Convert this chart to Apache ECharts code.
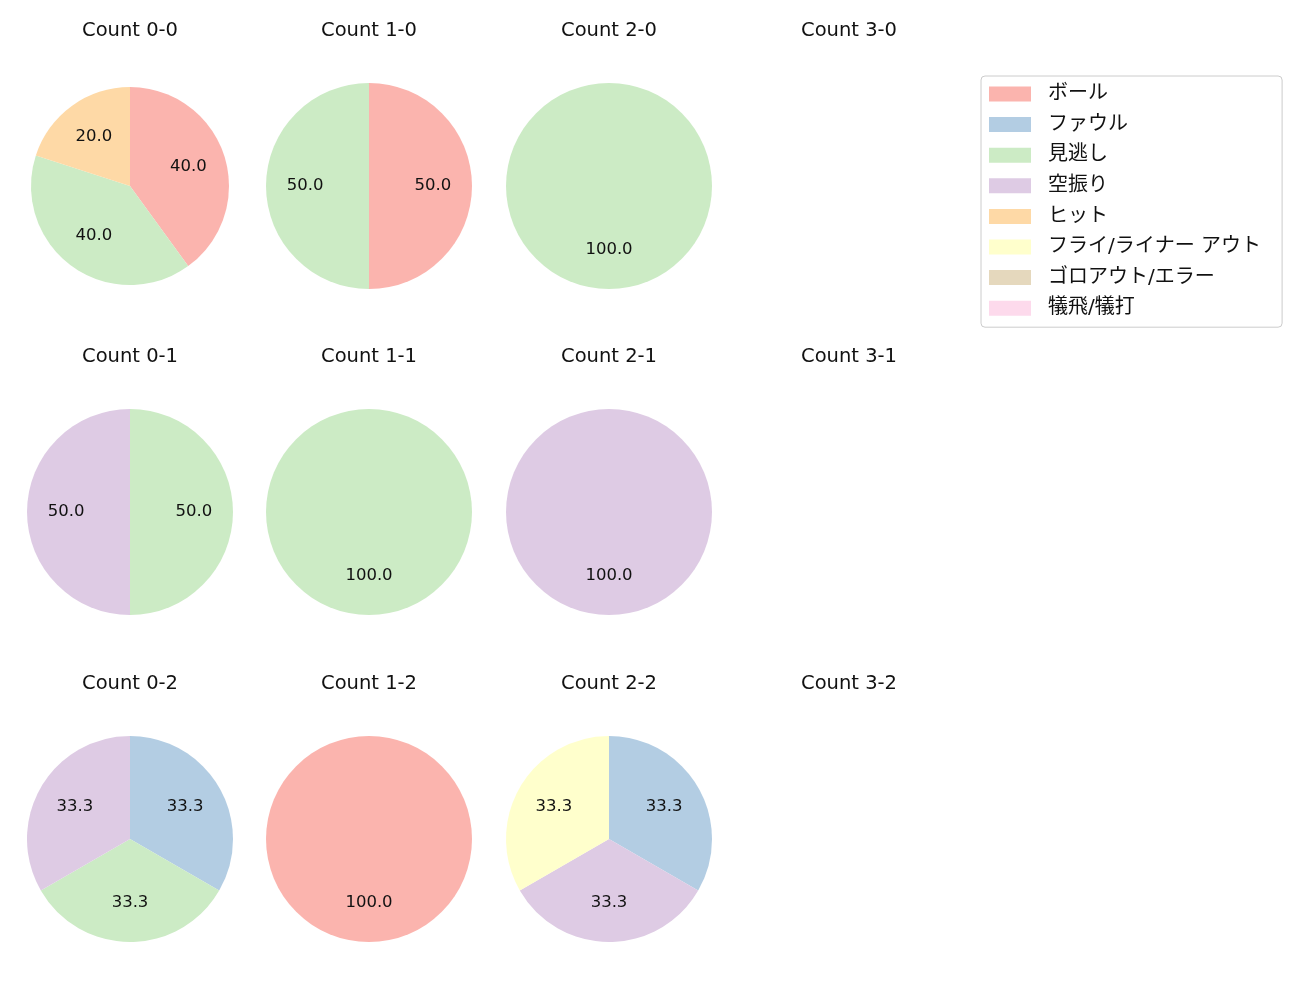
<!DOCTYPE html>
<html>
<head>
<meta charset="utf-8">
<script src="https://cdn.jsdelivr.net/npm/echarts@6/dist/echarts.min.js"></script>
<style>
  html, body { margin: 0; padding: 0; background: #fff; }
  #main { width: 1300px; height: 1000px; }
</style>
</head>
<body>
<div id="main"></div>
<script>
// 球種の分類
var categories = ['ボール', 'ファウル', '見逃し', '空振り', 'ヒット', 'フライ/ライナー アウト', 'ゴロアウト/エラー', '犠飛/犠打'];
var colors = ['#fbb4ae', '#b3cde3', '#ccebc5', '#decbe4', '#fed9a6', '#ffffcc', '#e5d8bd', '#fddaec'];

// カウントごとの件数 (categories の順)
var count00 = [2, 0, 2, 0, 1, 0, 0, 0];
var count10 = [1, 0, 1, 0, 0, 0, 0, 0];
var count20 = [0, 0, 1, 0, 0, 0, 0, 0];
var count30 = [];
var count01 = [0, 0, 1, 1, 0, 0, 0, 0];
var count11 = [0, 0, 1, 0, 0, 0, 0, 0];
var count21 = [0, 0, 0, 1, 0, 0, 0, 0];
var count31 = [];
var count02 = [0, 1, 1, 1, 0, 0, 0, 0];
var count12 = [1, 0, 0, 0, 0, 0, 0, 0];
var count22 = [0, 1, 0, 1, 0, 1, 0, 0];
var count32 = [];

var titles = [
    ['Count 0-0', 'Count 1-0', 'Count 2-0', 'Count 3-0'],
    ['Count 0-1', 'Count 1-1', 'Count 2-1', 'Count 3-1'],
    ['Count 0-2', 'Count 1-2', 'Count 2-2', 'Count 3-2']
];
var counts = [
    [count00, count10, count20, count30],
    [count01, count11, count21, count31],
    [count02, count12, count22, count32]
];

var colX = [130, 369, 609, 849];
var rowY = [186, 512, 839];
var titleY = [21, 347, 674];
var latin = '"DejaVu Sans", "Noto Sans CJK JP", sans-serif';

var titleList = [];
var seriesList = [];

for (var r = 0; r < 3; r++) {
    for (var c = 0; c < 4; c++) {
        titleList.push({
            text: titles[r][c],
            left: colX[c],
            top: titleY[r],
            padding: 0,
            textAlign: 'center',
            textStyle: { fontFamily: latin, fontSize: 19.5, fontWeight: 'normal', color: '#111' }
        });
        var vals = counts[r][c];
        if (!vals.length) continue;
        var total = vals.reduce(function(a, b) { return a + b; }, 0);
        var radius = (r === 0 && c === 0) ? 99 : 103;

        var fill = [];
        var labels = [];
        for (var i = 0; i < categories.length; i++) {
            fill.push({ name: categories[i], value: vals[i], itemStyle: { color: colors[i] } });
            if (vals[i] > 0) {
                labels.push({ name: categories[i], value: vals[i], pct: (vals[i] / total * 100).toFixed(1) });
            }
        }
        // 塗り
        seriesList.push({
            type: 'pie',
            center: [colX[c], rowY[r]],
            radius: [0, radius],
            startAngle: 90,
            clockwise: true,
            animation: false,
            label: { show: false },
            labelLine: { show: false },
            itemStyle: { borderWidth: 0 },
            emphasis: { disabled: true },
            data: fill
        });
        // ラベル (半径の0.6付近に置くため内径を小さくした透明な円)
        seriesList.push({
            type: 'pie',
            center: [colX[c], rowY[r]],
            radius: [radius * 0.18, radius],
            startAngle: 90,
            clockwise: true,
            animation: false,
            silent: true,
            legendHoverLink: false,
            itemStyle: { color: 'rgba(0,0,0,0)', borderWidth: 0 },
            label: {
                show: true,
                position: 'inside',
                fontFamily: latin,
                fontSize: 16.5,
                color: '#111',
                formatter: function(p) { return p.data.pct; }
            },
            labelLine: { show: false },
            emphasis: { disabled: true },
            data: labels.map(function(d) { return { name: '_' + d.name, value: d.value, pct: d.pct }; })
        });
    }
}

var myChart = echarts.init(document.getElementById('main'));
myChart.setOption({
    backgroundColor: '#fff',
    animation: false,
    title: titleList,
    legend: {
        data: categories,
        orient: 'vertical',
        left: 981,
        top: 76,
        padding: [8, 21, 9, 8],
        itemWidth: 42,
        itemHeight: 15,
        itemGap: 10.6,
        icon: 'rect',
        borderColor: '#cccccc',
        borderWidth: 1,
        borderRadius: 4,
        selectedMode: false,
        textStyle: { fontFamily: latin, fontSize: 20, lineHeight: 20, color: '#111', padding: [0, 0, 0, 12] }
    },
    series: seriesList
});
</script>
</body>
</html>
